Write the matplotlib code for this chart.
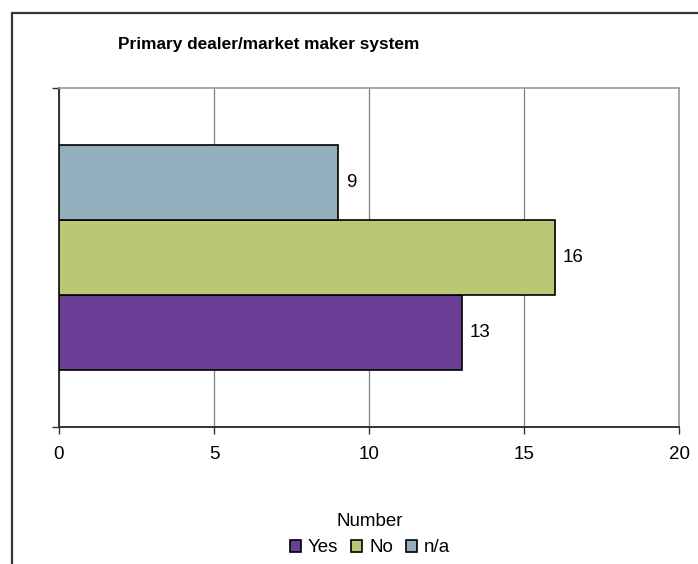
import matplotlib.pyplot as plt
from matplotlib.patches import Rectangle

plt.rcParams['font.family'] = ['Liberation Sans', 'DejaVu Sans']

# answers for the single question
labels = ['Yes', 'No', 'n/a']
counts = [13, 16, 9]
colours = ['#6b3f96', '#bbc774', '#93afbe']
x_ticks = [0, 5, 10, 15, 20]

fs = 13.5

fig = plt.figure(figsize=(6.98, 5.64), dpi=100)
ax = fig.add_axes([59 / 698, 1 - 427 / 564, 620 / 698, 339 / 564])

# outer chart frame, runs off the right and bottom edges
fig.patches.append(Rectangle((12 / 698, -0.1), 1.2, 1 - 13 / 564 + 0.1,
                             transform=fig.transFigure, fill=False,
                             edgecolor='#333333', linewidth=1.6, zorder=0))

bar_h = 0.222
offsets = [-bar_h, 0, bar_h]
for lab, val, col, off in zip(labels, counts, colours, offsets):
    ax.barh(off, val, height=bar_h, color=col, edgecolor='black',
            linewidth=1.2, label=lab, zorder=3)
    ax.text(val + 0.25, off, str(val), va='center', ha='left', fontsize=fs)

ax.set_xlim(0, 20)
ax.set_ylim(-0.5, 0.5)
ax.set_xticks(x_ticks)
ax.set_xticklabels([str(t) for t in x_ticks], fontsize=fs)
ax.set_yticks([-0.5, 0.5])
ax.set_yticklabels([])
ax.tick_params(axis='x', length=5, width=1, color='#333333', pad=9, direction='out')
ax.tick_params(axis='y', length=5, width=1, color='#333333', direction='out')
ax.xaxis.grid(True, color='#808080', linewidth=0.9, zorder=0)
ax.set_axisbelow(True)

for side in ['top', 'right']:
    ax.spines[side].set_color('#999999')
    ax.spines[side].set_linewidth(1.2)
for side in ['left', 'bottom']:
    ax.spines[side].set_color('#333333')
    ax.spines[side].set_linewidth(1.4)

ax.set_xlabel('Number', fontsize=fs)
ax.xaxis.set_label_coords((370 - 59) / 620, (427 - 522) / 339)
ax.xaxis.label.set_va('center')

fig.text(269 / 698, 1 - 45 / 564, 'Primary dealer/market maker system',
         ha='center', va='center', fontsize=12.4, fontweight='bold')

ax.legend(loc='center', bbox_to_anchor=(370 / 698, 1 - 548 / 564),
          bbox_transform=fig.transFigure, ncol=3, frameon=False, fontsize=fs,
          handlelength=0.6, handleheight=0.6, handletextpad=0.35,
          columnspacing=0.7, borderpad=0)

fig.savefig('out.png', dpi=100)
